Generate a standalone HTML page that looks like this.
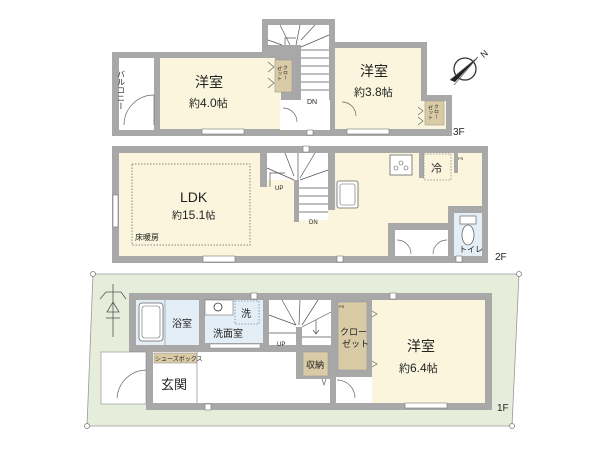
<!DOCTYPE html>
<html><head><meta charset="utf-8"><style>
html,body{margin:0;padding:0;background:#fff;}
svg{display:block;}
text{font-family:"Liberation Sans","Noto Sans CJK JP",sans-serif;fill:#222;}
</style></head><body>
<svg width="600" height="450" viewBox="0 0 600 450" xmlns="http://www.w3.org/2000/svg">
<!-- ===== 3F ===== -->
<g>
<path d="M112,52 H262 V19 H335 V42 H427 V95 H452 V136 H112 Z" fill="#a8a8a8"/>
<rect x="119" y="58" width="35" height="72" fill="#fff"/>
<rect x="160" y="58" width="115" height="71" fill="#faf5dc"/>
<rect x="275" y="86" width="6" height="43" fill="#faf5dc"/>
<rect x="275" y="60" width="17" height="32" fill="#d9cba6" stroke="#999" stroke-width="0.6"/>
<rect x="268" y="25" width="61" height="20" fill="#fff"/>
<rect x="301" y="25" width="28" height="96" fill="#fff"/>
<rect x="280" y="100" width="50" height="30" fill="#fff"/>
<g stroke="#555" stroke-width="0.7" fill="none">
<line x1="301" y1="50" x2="329" y2="50"/><line x1="301" y1="58" x2="329" y2="58"/><line x1="301" y1="66" x2="329" y2="66"/><line x1="301" y1="74" x2="329" y2="74"/><line x1="301" y1="82" x2="329" y2="82"/><line x1="301" y1="90" x2="329" y2="90"/>
<line x1="280" y1="25" x2="290" y2="45"/><line x1="300" y1="25" x2="296" y2="45"/><line x1="315" y1="25" x2="301" y2="40"/><line x1="329" y1="35" x2="301" y2="47"/><line x1="268" y1="40" x2="282" y2="45"/>
<path d="M285,45 L285,38 L296,38"/>
</g>
<text x="307" y="104" font-size="7">DN</text>
<rect x="335" y="48" width="86" height="81" fill="#faf5dc"/>
<rect x="421" y="101" width="25" height="28" fill="#faf5dc"/>
<rect x="425" y="101" width="19" height="24" fill="#d9cba6" stroke="#999" stroke-width="0.6"/>
<g stroke="#666" stroke-width="0.7" fill="none">
<path d="M124,125 A30,30 0 0,1 154,95"/><line x1="154" y1="95" x2="154" y2="125"/>
<path d="M283,108 A14,14 0 0,1 297,122"/>
<path d="M342,102 A14,14 0 0,1 356,116"/>
<path d="M268,62 l6,5 l-6,5 M268,78 l6,5 l-6,5"/>
<path d="M418,107 l5,4 l-5,4 M418,117 l5,4 l-5,4"/>
</g>
<g fill="#fff" stroke="#777" stroke-width="0.6">
<rect x="202" y="129" width="42" height="5"/><rect x="347" y="129" width="42" height="5"/><rect x="307" y="130" width="6" height="5"/>
</g>
<text x="195" y="87" font-size="14">洋室</text>
<text x="189" y="107" font-size="11">約<tspan font-size="12">4.0</tspan>帖</text>
<text x="360" y="76" font-size="14">洋室</text>
<text x="354" y="96" font-size="11">約<tspan font-size="12">3.8</tspan>帖</text>
<text x="121" y="70" font-size="8" writing-mode="tb">バルコニー</text>
<text x="285" y="65" font-size="5" writing-mode="tb">クロー</text>
<text x="279" y="66" font-size="5" writing-mode="tb">ゼット</text>
<text x="436" y="104" font-size="5" writing-mode="tb">クロー</text>
<text x="430" y="105" font-size="5" writing-mode="tb">ゼット</text>
<text x="453" y="135" font-size="10">3F</text>
<circle cx="465" cy="69" r="11" fill="none" stroke="#333" stroke-width="1.3"/>
<path d="M450,80 L478,57 L455,82 Z" fill="#222"/>
<path d="M450,80 L478,57 L454,85" fill="none" stroke="#555" stroke-width="0.6"/>
<text x="481" y="57" font-size="9" transform="rotate(-40 484 54)">N</text>
</g>

<!-- ===== 2F ===== -->
<g>
<rect x="112" y="146" width="376" height="117" fill="#a8a8a8"/>
<rect x="119" y="153" width="363" height="103" fill="#faf5dc"/>
<rect x="260" y="153" width="7" height="34" fill="#a8a8a8"/>
<rect x="328" y="153" width="7" height="57" fill="#a8a8a8"/>
<rect x="294" y="180" width="5" height="42" fill="#a8a8a8"/>
<rect x="267" y="153" width="61" height="27" fill="#fff"/>
<rect x="299" y="180" width="29" height="40" fill="#fff"/>
<g stroke="#555" stroke-width="0.7" fill="none">
<line x1="299" y1="188" x2="328" y2="188"/><line x1="299" y1="196" x2="328" y2="196"/><line x1="299" y1="204" x2="328" y2="204"/><line x1="299" y1="212" x2="328" y2="212"/>
<line x1="267" y1="168" x2="294" y2="180"/><line x1="285" y1="153" x2="294" y2="176"/><line x1="298" y1="153" x2="298" y2="180"/><line x1="315" y1="153" x2="300" y2="178"/><line x1="328" y1="170" x2="300" y2="180"/>
<path d="M270,187 V173 H285"/>
</g>
<text x="275" y="190" font-size="6">UP</text>
<text x="309" y="224" font-size="6">DN</text>
<rect x="132" y="164" width="118" height="81" fill="none" stroke="#888" stroke-width="1" stroke-dasharray="1.5,1.5"/>
<text x="180" y="202" font-size="14">LDK</text>
<text x="172" y="219" font-size="10">約<tspan font-size="12">15.1</tspan>帖</text>
<text x="135" y="240" font-size="8">床暖房</text>
<rect x="337" y="181" width="21" height="27" fill="#fff" stroke="#666" stroke-width="0.8" rx="2"/>
<rect x="340" y="184" width="15" height="21" fill="none" stroke="#666" stroke-width="0.6" rx="2"/>
<rect x="390" y="155" width="22" height="20" fill="#fff" stroke="#666" stroke-width="0.8"/>
<circle cx="396" cy="168" r="2" fill="none" stroke="#555" stroke-width="0.6"/><circle cx="406" cy="168" r="2" fill="none" stroke="#555" stroke-width="0.6"/><circle cx="401" cy="163" r="2" fill="none" stroke="#555" stroke-width="0.6"/>
<rect x="419" y="153" width="5" height="25" fill="#a8a8a8"/>
<rect x="454" y="153" width="4" height="20" fill="#a8a8a8"/>
<rect x="424" y="154" width="27" height="26" fill="none" stroke="#888" stroke-width="0.8" stroke-dasharray="1.5,1.5"/>
<text x="431" y="172" font-size="11">冷</text>
<text x="458" y="160" font-size="4">PS</text>
<rect x="448" y="206" width="34" height="7" fill="#a8a8a8"/>
<rect x="448" y="206" width="6" height="50" fill="#a8a8a8"/>
<rect x="388" y="223" width="60" height="7" fill="#a8a8a8"/>
<rect x="388" y="223" width="7" height="33" fill="#a8a8a8"/>
<rect x="395" y="230" width="53" height="26" fill="#fff"/>
<rect x="454" y="213" width="28" height="43" fill="#e3eef6"/>
<rect x="460" y="216" width="16" height="8" fill="#fff" stroke="#666" stroke-width="0.7"/>
<ellipse cx="468" cy="235" rx="6" ry="10" fill="#fff" stroke="#666" stroke-width="0.8"/>
<text x="459" y="252" font-size="8">トイレ</text>
<g stroke="#666" stroke-width="0.7" fill="none">
<path d="M397,240 A14,14 0 0,1 411,254"/><path d="M447,240 A14,14 0 0,0 433,254"/>
</g>
<g fill="#fff" stroke="#777" stroke-width="0.6">
<rect x="113" y="195" width="5" height="32"/><rect x="203" y="256" width="32" height="6"/><rect x="337" y="256" width="6" height="6"/><rect x="456" y="256" width="6" height="6"/><rect x="303" y="146" width="6" height="6"/>
</g>
<text x="495" y="260" font-size="10">2F</text>
</g>

<!-- ===== 1F ===== -->
<g>
<polygon points="93,274 519,274 512,426 87,426" fill="#e6eedb" stroke="#999" stroke-width="0.8"/>
<g fill="#fff" stroke="#777" stroke-width="0.7"><circle cx="93" cy="274" r="2.5"/><circle cx="519" cy="274" r="2.5"/><circle cx="512" cy="426" r="2.5"/><circle cx="87" cy="426" r="2.5"/></g>
<g stroke="#555" stroke-width="0.8" fill="none">
<line x1="113" y1="284" x2="113" y2="337"/><path d="M100,299 L106,292 H121 L126,299"/><path d="M107,312 L113,302 L119,312 Z"/><line x1="106" y1="318" x2="120" y2="318"/>
</g>
<path d="M129,293 H492 V410 H146 V352 H129 Z" fill="#a8a8a8"/>
<rect x="101" y="352" width="45" height="52" fill="#fff" stroke="#888" stroke-width="0.6"/>
<path d="M117,398 A30,30 0 0,1 146,370" fill="none" stroke="#666" stroke-width="0.7"/>
<rect x="136" y="300" width="63" height="45" fill="#e3eef6"/>
<rect x="139" y="303" width="24" height="38" rx="3" fill="#fff" stroke="#666" stroke-width="0.8"/>
<rect x="142" y="306" width="18" height="32" rx="3" fill="none" stroke="#666" stroke-width="0.6"/>
<line x1="165" y1="300" x2="165" y2="345" stroke="#888" stroke-width="0.6"/>
<text x="172" y="327" font-size="10">浴室</text>
<rect x="205" y="300" width="58" height="43" fill="#e3eef6"/>
<rect x="205" y="300" width="28" height="15" fill="#fff" stroke="#777" stroke-width="0.6"/>
<circle cx="218" cy="307" r="4" fill="none" stroke="#333" stroke-width="0.8"/>
<rect x="235" y="301" width="24" height="23" fill="none" stroke="#888" stroke-width="0.8" stroke-dasharray="1.5,1.5"/>
<text x="241" y="317" font-size="10">洗</text>
<text x="213" y="337" font-size="10">洗面室</text>
<rect x="210" y="344" width="50" height="4" fill="#fff" stroke="#888" stroke-width="0.5"/>
<!-- hall (drawn before storage) -->
<rect x="197" y="352" width="133" height="51" fill="#fff"/>
<rect x="331" y="377" width="41" height="26" fill="#fff"/>
<rect x="331" y="377" width="5" height="26" fill="#a8a8a8"/>
<path d="M337,380 A18,18 0 0,1 355,398" fill="none" stroke="#666" stroke-width="0.7"/>
<!-- stairs -->
<rect x="269" y="300" width="62" height="45" fill="#fff"/>
<g stroke="#555" stroke-width="0.7" fill="none">
<line x1="269" y1="315" x2="296" y2="325"/><line x1="282" y1="300" x2="296" y2="325"/><line x1="300" y1="300" x2="299" y2="325"/><line x1="318" y1="300" x2="302" y2="325"/><line x1="331" y1="312" x2="302" y2="327"/><line x1="302" y1="337" x2="331" y2="337"/><line x1="269" y1="333" x2="296" y2="333"/>
<path d="M316,320 V333 M313,330 L316,334 L319,330"/>
</g>
<text x="277" y="346" font-size="6">UP</text>
<!-- storage block -->
<rect x="296" y="327" width="6" height="52" fill="#a8a8a8"/>
<rect x="296" y="346" width="35" height="33" fill="#a8a8a8"/>
<rect x="303" y="352" width="25" height="24" fill="#d9cba6" stroke="#999" stroke-width="0.6"/>
<text x="306" y="368" font-size="9">収納</text>
<path d="M322,379 l2,6 l2,-6" fill="none" stroke="#666" stroke-width="0.7"/>
<!-- closet -->
<rect x="331" y="300" width="41" height="77" fill="#a8a8a8"/>
<rect x="338" y="302" width="29" height="68" fill="#d9cba6" stroke="#999" stroke-width="0.6"/>
<text x="339" y="308" font-size="4">PS</text>
<text x="340" y="335" font-size="9">クロー</text>
<text x="342" y="347" font-size="9">ゼット</text>
<!-- genkan -->
<rect x="153" y="352" width="44" height="51" fill="#fff"/>
<rect x="154" y="353" width="43" height="10" fill="#d9cba6" stroke="#999" stroke-width="0.6"/>
<text x="155" y="361" font-size="6">シューズボックス</text>
<line x1="197" y1="352" x2="197" y2="403" stroke="#999" stroke-width="0.8"/>
<text x="161" y="389" font-size="13">玄関</text>
<rect x="372" y="300" width="113" height="103" fill="#faf5dc"/>
<text x="407" y="351" font-size="14">洋室</text>
<text x="399" y="372" font-size="11">約<tspan font-size="12">6.4</tspan>帖</text>
<g stroke="#666" stroke-width="0.7" fill="none">
<path d="M372,311 l5,3 l-5,3 M372,361 l5,3 l-5,3"/>
</g>
<g fill="#fff" stroke="#777" stroke-width="0.6">
<rect x="251" y="293" width="6" height="6"/><rect x="390" y="293" width="6" height="6"/><rect x="205" y="404" width="6" height="6"/><rect x="405" y="403" width="42" height="5"/>
</g>
<text x="497" y="411" font-size="10">1F</text>
</g>
</svg>
</body></html>
